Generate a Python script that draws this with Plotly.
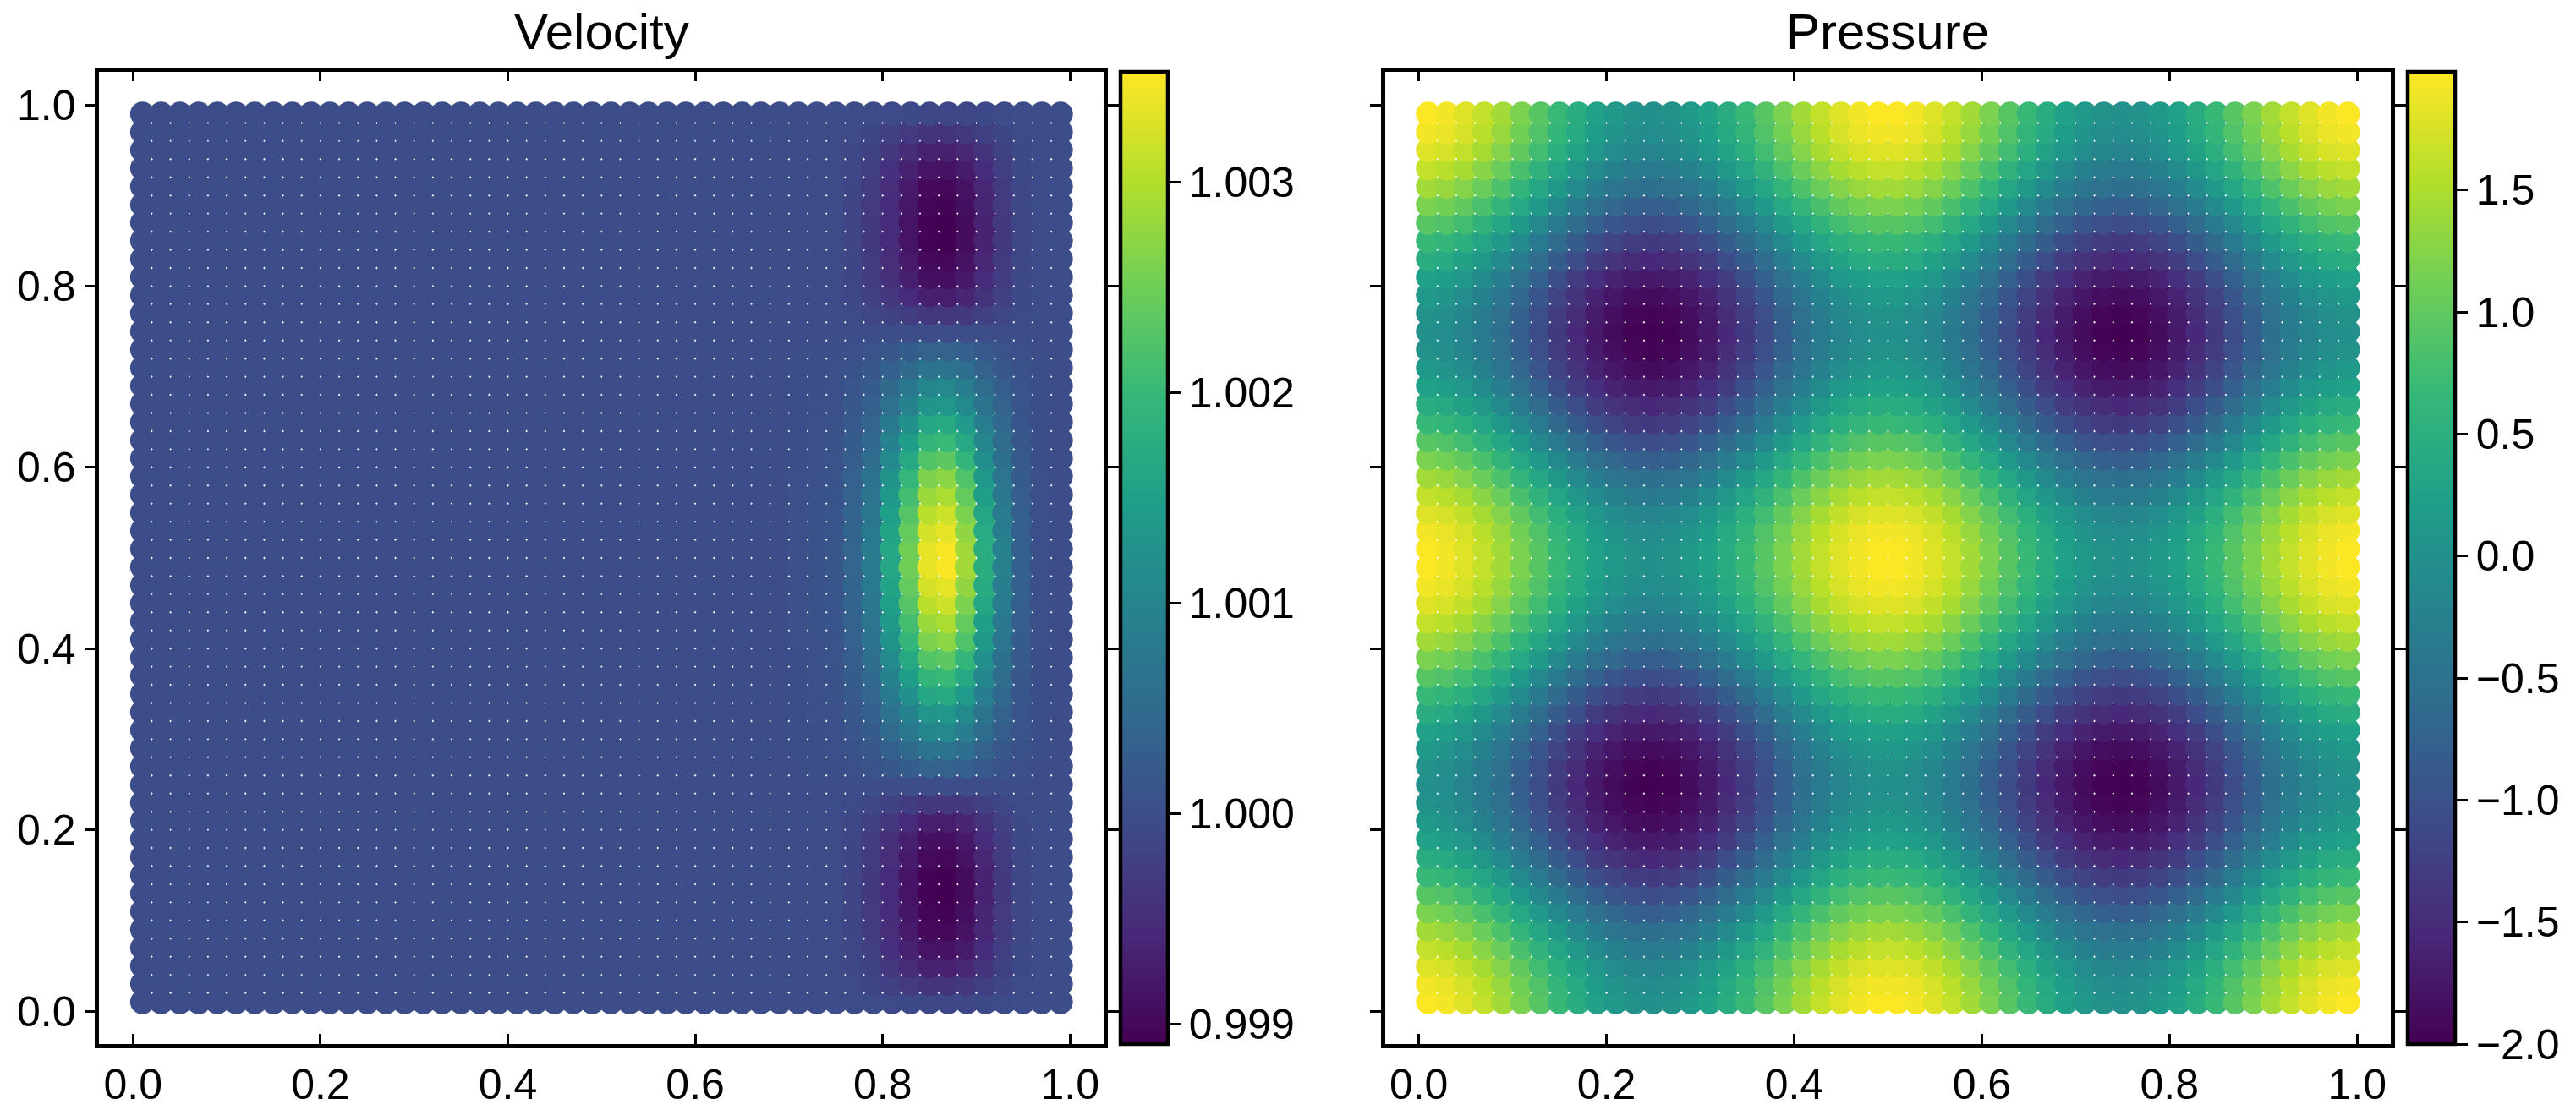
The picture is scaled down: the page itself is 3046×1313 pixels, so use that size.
import plotly.graph_objects as go

# Sample grid (50 x 50)
grid = [0.01, 0.03, 0.05, 0.07, 0.09, 0.11, 0.13, 0.15, 0.17, 0.19,
        0.21, 0.23, 0.25, 0.27, 0.29, 0.31, 0.33, 0.35, 0.37, 0.39,
        0.41, 0.43, 0.45, 0.47, 0.49, 0.51, 0.53, 0.55, 0.57, 0.59,
        0.61, 0.63, 0.65, 0.67, 0.69, 0.71, 0.73, 0.75, 0.77, 0.79,
        0.81, 0.83, 0.85, 0.87, 0.89, 0.91, 0.93, 0.95, 0.97, 0.99]

axis_ticks = [0.0, 0.2, 0.4, 0.6, 0.8, 1.0]
axis_tick_text = ["0.0", "0.2", "0.4", "0.6", "0.8", "1.0"]
velocity_ticks = [0.999, 1.000, 1.001, 1.002, 1.003]
pressure_ticks = [-2.0, -1.5, -1.0, -0.5, 0.0, 0.5, 1.0, 1.5]
titles = ["Velocity", "Pressure"]

# Velocity: read as 1.000 everywhere except columns x = 0.71 ... 0.97.
velocity_background = 1.0
velocity_columns = [0.71, 0.73, 0.75, 0.77, 0.79, 0.81, 0.83, 0.85, 0.87, 0.89, 0.91, 0.93, 0.95, 0.97]
# offsets from 1.000, in thousandths, named by row y
v51 = [.03, .07, .14, .42, .84, 1.64, 2.51, 3.35, 3.49, 2.86, 1.78, .91, .31, .03]
v53 = [.03, .07, .13, .40, .80, 1.57, 2.41, 3.22, 3.35, 2.75, 1.71, .87, .30, .03]
v55 = [.03, .06, .13, .38, .76, 1.49, 2.28, 3.04, 3.17, 2.60, 1.62, .82, .29, .03]
v57 = [.03, .06, .12, .35, .71, 1.38, 2.12, 2.82, 2.94, 2.41, 1.50, .76, .26, .03]
v59 = [.03, .05, .11, .33, .65, 1.27, 1.95, 2.60, 2.71, 2.22, 1.38, .70, .24, .03]
v61 = [.02, .05, .09, .28, .56, 1.10, 1.68, 2.25, 2.34, 1.92, 1.19, .61, .21, .02]
v63 = [.02, .04, .08, .24, .48, .95, 1.45, 1.94, 2.02, 1.66, 1.03, .53, .18, .02]
v65 = [.02, .03, .07, .20, .41, .80, 1.22, 1.63, 1.70, 1.39, .87, .44, .15, .02]
v67 = [.01, .03, .05, .16, .32, .63, .96, 1.28, 1.33, 1.09, .68, .35, .12, .01]
v69 = [.01, .02, .04, .13, .25, .50, .76, 1.02, 1.06, .87, .54, .28, .10, .01]
v71 = [.01, .01, .03, .08, .17, .32, .50, .66, .69, .57, .35, .18, .06, .01]
v73 = [0, .01, .01, .04, .09, .17, .27, .36, .37, .30, .19, .10, .03, 0]
v75 = [0, 0, 0, 0, 0, 0, 0, 0, 0, 0, 0, 0, 0, 0]
v77 = [0, -.01, -.01, -.04, -.10, -.18, -.27, -.35, -.36, -.31, -.21, -.10, -.03, 0]
v79 = [0, -.01, -.03, -.09, -.20, -.36, -.55, -.70, -.72, -.62, -.42, -.20, -.06, -.01]
v81 = [0, -.02, -.04, -.11, -.26, -.46, -.70, -.89, -.92, -.79, -.53, -.26, -.07, -.01]
v83 = [0, -.02, -.04, -.12, -.28, -.51, -.77, -.98, -1.01, -.87, -.59, -.28, -.08, -.01]
v85 = [0, -.02, -.04, -.13, -.31, -.55, -.84, -1.07, -1.10, -.95, -.64, -.31, -.09, -.01]
v87 = [0, -.02, -.04, -.13, -.31, -.55, -.84, -1.07, -1.10, -.95, -.64, -.31, -.09, -.01]
v89 = [0, -.02, -.04, -.13, -.30, -.53, -.81, -1.03, -1.06, -.91, -.61, -.30, -.08, -.01]
v91 = [0, -.02, -.04, -.12, -.28, -.51, -.77, -.98, -1.01, -.87, -.59, -.28, -.08, -.01]
v93 = [0, -.02, -.03, -.10, -.24, -.44, -.66, -.84, -.87, -.75, -.50, -.24, -.07, -.01]
v95 = [0, -.01, -.03, -.08, -.19, -.35, -.52, -.67, -.69, -.59, -.40, -.19, -.06, -.01]
v97 = [0, -.01, -.02, -.05, -.11, -.20, -.30, -.39, -.40, -.34, -.23, -.11, -.03, 0]
v99 = [0, 0, -.01, -.02, -.03, -.05, -.07, -.09, -.09, -.08, -.06, -.03, -.01, 0]
# rows from y = 0.01 up to y = 0.99
velocity_rows = [v99, v97, v95, v93, v91, v89, v87, v85, v83, v81, v79, v77, v75, v73, v71, v69, v67,
                 v65, v63, v61, v59, v57, v55, v53, v51,
                 v51, v53, v55, v57, v59, v61, v63, v65, v67, v69, v71, v73, v75, v77, v79, v81,
                 v83, v85, v87, v89, v91, v93, v95, v97, v99]

# Pressure: distinct rows of the reading, named by row band
p00 = [1.98,1.92,1.80,1.63,1.42,1.18,.93,.68,.46,.26,.12,.02,-.01,.02,.12,.26,.46,.68,.93,1.18,1.42,1.63,1.80,1.92,1.98,
       1.98,1.92,1.80,1.63,1.42,1.18,.93,.68,.46,.26,.12,.02,-.01,.02,.12,.26,.46,.68,.93,1.18,1.42,1.63,1.80,1.92,1.98]
p01 = [1.92,1.86,1.74,1.57,1.36,1.12,.87,.62,.39,.20,.05,-.04,-.07,-.04,.05,.20,.39,.62,.87,1.12,1.36,1.57,1.74,1.86,1.92,
       1.92,1.86,1.74,1.57,1.36,1.12,.87,.62,.39,.20,.05,-.04,-.07,-.04,.05,.20,.39,.62,.87,1.12,1.36,1.57,1.74,1.86,1.92]
p02 = [1.80,1.74,1.62,1.45,1.24,1.00,.75,.50,.27,.08,-.07,-.16,-.19,-.16,-.07,.08,.27,.50,.75,1.00,1.24,1.45,1.62,1.74,1.80,
       1.80,1.74,1.62,1.45,1.24,1.00,.75,.50,.27,.08,-.07,-.16,-.19,-.16,-.07,.08,.27,.50,.75,1.00,1.24,1.45,1.62,1.74,1.80]
p03 = [1.63,1.57,1.45,1.27,1.06,.82,.57,.33,.10,-.09,-.24,-.33,-.36,-.33,-.24,-.09,.10,.33,.57,.82,1.06,1.27,1.45,1.57,1.63,
       1.63,1.57,1.45,1.27,1.06,.82,.57,.33,.10,-.09,-.24,-.33,-.36,-.33,-.24,-.09,.10,.33,.57,.82,1.06,1.27,1.45,1.57,1.63]
p04 = [1.42,1.36,1.24,1.06,.85,.61,.36,.12,-.11,-.30,-.45,-.54,-.57,-.54,-.45,-.30,-.11,.12,.36,.61,.85,1.06,1.24,1.36,1.42,
       1.42,1.36,1.24,1.06,.85,.61,.36,.12,-.11,-.30,-.45,-.54,-.57,-.54,-.45,-.30,-.11,.12,.36,.61,.85,1.06,1.24,1.36,1.42]
p05 = [1.18,1.12,1.00,.82,.61,.37,.12,-.12,-.35,-.54,-.69,-.78,-.81,-.78,-.69,-.54,-.35,-.12,.12,.37,.61,.82,1.00,1.12,1.18,
       1.18,1.12,1.00,.82,.61,.37,.12,-.12,-.35,-.54,-.69,-.78,-.81,-.78,-.69,-.54,-.35,-.12,.12,.37,.61,.82,1.00,1.12,1.18]
p06 = [.93,.87,.75,.57,.36,.12,-.13,-.37,-.60,-.79,-.94,-1.03,-1.06,-1.03,-.94,-.79,-.60,-.37,-.13,.12,.36,.57,.75,.87,.93,
       .93,.87,.75,.57,.36,.12,-.13,-.37,-.60,-.79,-.94,-1.03,-1.06,-1.03,-.94,-.79,-.60,-.37,-.13,.12,.36,.57,.75,.87,.93]
p07 = [.68,.62,.50,.33,.12,-.12,-.37,-.62,-.85,-1.04,-1.19,-1.28,-1.31,-1.28,-1.19,-1.04,-.85,-.62,-.37,-.12,.12,.33,.50,.62,.68,
       .68,.62,.50,.33,.12,-.12,-.37,-.62,-.85,-1.04,-1.19,-1.28,-1.31,-1.28,-1.19,-1.04,-.85,-.62,-.37,-.12,.12,.33,.50,.62,.68]
p08 = [.46,.39,.27,.10,-.11,-.35,-.60,-.85,-1.07,-1.27,-1.41,-1.51,-1.54,-1.51,-1.41,-1.27,-1.07,-.85,-.60,-.35,-.11,.10,.27,.39,.46,
       .46,.39,.27,.10,-.11,-.35,-.60,-.85,-1.07,-1.27,-1.41,-1.51,-1.54,-1.51,-1.41,-1.27,-1.07,-.85,-.60,-.35,-.11,.10,.27,.39,.46]
p09 = [.26,.20,.08,-.09,-.30,-.54,-.79,-1.04,-1.27,-1.46,-1.61,-1.70,-1.73,-1.70,-1.61,-1.46,-1.27,-1.04,-.79,-.54,-.30,-.09,.08,.20,.26,
       .26,.20,.08,-.09,-.30,-.54,-.79,-1.04,-1.27,-1.46,-1.61,-1.70,-1.73,-1.70,-1.61,-1.46,-1.27,-1.04,-.79,-.54,-.30,-.09,.08,.20,.26]
p10 = [.12,.05,-.07,-.24,-.45,-.69,-.94,-1.19,-1.41,-1.61,-1.75,-1.85,-1.88,-1.85,-1.75,-1.61,-1.41,-1.19,-.94,-.69,-.45,-.24,-.07,.05,.12,
       .12,.05,-.07,-.24,-.45,-.69,-.94,-1.19,-1.41,-1.61,-1.75,-1.85,-1.88,-1.85,-1.75,-1.61,-1.41,-1.19,-.94,-.69,-.45,-.24,-.07,.05,.12]
p11 = [.02,-.04,-.16,-.33,-.54,-.78,-1.03,-1.28,-1.51,-1.70,-1.85,-1.94,-1.97,-1.94,-1.85,-1.70,-1.51,-1.28,-1.03,-.78,-.54,-.33,-.16,-.04,.02,
       .02,-.04,-.16,-.33,-.54,-.78,-1.03,-1.28,-1.51,-1.70,-1.85,-1.94,-1.97,-1.94,-1.85,-1.70,-1.51,-1.28,-1.03,-.78,-.54,-.33,-.16,-.04,.02]
p12 = [-.01,-.07,-.19,-.36,-.57,-.81,-1.06,-1.31,-1.54,-1.73,-1.88,-1.97,-2.0,-1.97,-1.88,-1.73,-1.54,-1.31,-1.06,-.81,-.57,-.36,-.19,-.07,-.01,
       -.01,-.07,-.19,-.36,-.57,-.81,-1.06,-1.31,-1.54,-1.73,-1.88,-1.97,-2.0,-1.97,-1.88,-1.73,-1.54,-1.31,-1.06,-.81,-.57,-.36,-.19,-.07,-.01]
pressure_rows = [p00, p01, p02, p03, p04, p05, p06, p07, p08, p09, p10, p11, p12, p11, p10, p09, p08, p07, p06, p05, p04, p03, p02, p01, p00,
                 p00, p01, p02, p03, p04, p05, p06, p07, p08, p09, p10, p11, p12, p11, p10, p09, p08, p07, p06, p05, p04, p03, p02, p01, p00]

W, H = 3046, 1313
FONT = "Liberation Sans"
LW = 4.5
TICK = 50


def px_x(v):
    return v / W


def px_y(v):
    return 1 - v / H


xs, ys, vel, prs = [], [], [], []
for i, x in enumerate(grid):
    for j, y in enumerate(grid):
        xs.append(x)
        ys.append(y)
        val = velocity_background
        if x in velocity_columns:
            val = 1.0 + velocity_rows[j][velocity_columns.index(x)] / 1000.0
        vel.append(val)
        prs.append(pressure_rows[j][i])

fig = go.Figure()


def add_panel(n, values, cmin, cmax, cb_left, ticks, fmt):
    fig.add_trace(go.Scatter(
        x=xs, y=ys, mode="markers", xaxis=f"x{n}", yaxis=f"y{n}", showlegend=False,
        marker=dict(
            size=29, color=values, colorscale="Viridis", cmin=cmin, cmax=cmax,
            line=dict(width=0), opacity=1,
            colorbar=dict(
                x=px_x(cb_left), xanchor="left", xpad=0, ypad=0,
                y=px_y(1235), yanchor="bottom", len=(1235 - 84.55) / H, lenmode="fraction",
                thickness=55.5, thicknessmode="pixels",
                outlinewidth=LW, outlinecolor="black", borderwidth=0,
                ticks="outside", ticklen=13, tickwidth=3, tickcolor="black",
                tickvals=ticks, tickformat=fmt, tickprefix="\u200a",
                tickfont=dict(family=FONT, size=TICK, color="black"),
            ),
        ),
    ))


add_panel("", vel, 0.998907, 1.003522, 1324.5, velocity_ticks, ".3f")
add_panel("2", prs, -2.0, 1.984, 2847, pressure_ticks, ".1f")

axis_common = dict(
    showgrid=False, zeroline=False, showline=True, linecolor="black", linewidth=LW,
    mirror="allticks", tickcolor="black", tickwidth=3,
    tickvals=axis_ticks, ticktext=axis_tick_text,
    tickfont=dict(family=FONT, size=TICK, color="black"),
)
xr = [-0.03615, 1.0359]
yr = [-0.03638, 1.0368]

fig.update_layout(
    width=W, height=H, margin=dict(l=0, r=0, t=0, b=0, autoexpand=False),
    paper_bgcolor="white", plot_bgcolor="white", hovermode=False,
    xaxis=dict(domain=[px_x(117.25), px_x(1305.05)], range=xr, ticks="inside", ticklen=12, anchor="y", **axis_common),
    yaxis=dict(domain=[px_y(1235), px_y(84.55)], range=yr, ticks="outside", ticklen=13, anchor="x", **axis_common),
    xaxis2=dict(domain=[px_x(1637.55), px_x(2827.05)], range=xr, ticks="inside", ticklen=12, anchor="y2", **axis_common),
    yaxis2=dict(domain=[px_y(1235), px_y(84.55)], range=yr, ticks="outside", ticklen=13, anchor="x2",
                showticklabels=False, **axis_common),
    annotations=[
        dict(text=titles[0], x=px_x(711), y=px_y(38), xref="paper", yref="paper", showarrow=False,
             xanchor="center", yanchor="middle", font=dict(family=FONT, size=60, color="black")),
        dict(text=titles[1], x=px_x(2232), y=px_y(38), xref="paper", yref="paper", showarrow=False,
             xanchor="center", yanchor="middle", font=dict(family=FONT, size=60, color="black")),
    ],
)

# Drop the browser's default page margin so the figure fills the window exactly.
fig.write_html("out.html", config=dict(displayModeBar=False),
               post_script="document.body.style.margin='0';")
